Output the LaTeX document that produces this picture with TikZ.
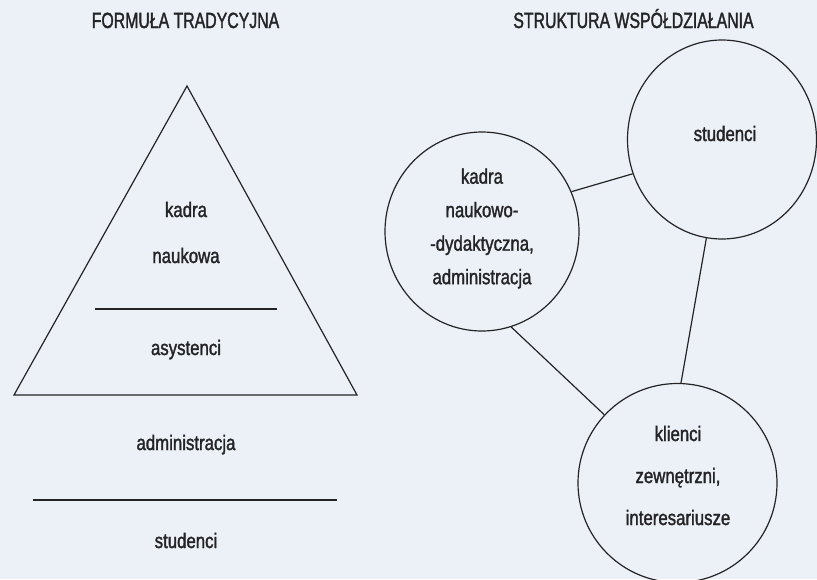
\documentclass[tikz,border=0pt]{standalone}
\usepackage{fontspec}
\setmainfont{Liberation Sans}[FakeStretch=0.8, FakeBold=1.5]
\newfontfamily\tytulfont{Liberation Sans}[FakeStretch=0.72, FakeBold=1.5]
\usepackage{tikz}
\usetikzlibrary{shapes.geometric, positioning}
\definecolor{paper}{RGB}{236,241,247}
\definecolor{ink}{RGB}{36,36,38}
\tikzset{every node/.append style={align=center, inner sep=0pt, text=ink}}

\begin{document}
\begin{tikzpicture}[x=1pt, y=-1pt,
    t/.style={font=\tytulfont\fontsize{22}{26}\selectfont, anchor=base},
    w/.style={font=\fontsize{21}{25}\selectfont, anchor=base},
    k/.style={ellipse, draw=ink, line width=1.2pt, minimum width=194pt, minimum height=199pt},
    l/.style={draw=ink, line width=1.2pt}]
\fill[paper] (0,0) rectangle (817,579);
\useasboundingbox (0,0) rectangle (817,579);
% naglowki
\node[t] (tytL) at (185.5,28) {FORMUŁA TRADYCYJNA};
\node[t] (tytP) at (633.5,28) {STRUKTURA WSPÓŁDZIAŁANIA};
% piramida
\coordinate (apex) at (187,86);
\coordinate (bl) at (14,395);
\coordinate (br) at (357,395);
\draw[l] (apex) -- (bl) -- (br) -- cycle;
\coordinate (p1a) at (95,309);
\coordinate (p1b) at (277,309);
\draw[l] (p1a) -- (p1b);
\coordinate (p2a) at (33,500);
\coordinate (p2b) at (337,500);
\draw[l] (p2a) -- (p2b);
\node[w] (tKadra) at (186,217) {kadra};
\node[w] (tNaukowa) at (186,263) {naukowa};
\node[w] (tAsyst) at (186,355) {asystenci};
\node[w] (tAdmin) at (186,450) {administracja};
\node[w] (tStud) at (186,548) {studenci};
% kola
\node[k] (kadra) at (482,231.5) {};
\node[k, minimum width=189pt] (studenci) at (722,139.5) {};
\node[k, minimum width=199pt] (klienci) at (677.5,483) {};
\node[font=\fontsize{21}{33.5}\selectfont] (kadraT) at (482,228.5)
    {kadra\\naukowo-\\-dydaktyczna,\\administracja};
\node[w] (studT) at (725,141) {studenci};
\node[font=\fontsize{21}{42}\selectfont] (klienciT) at (678,475.5)
    {klienci\\zewnętrzni,\\interesariusze};
\draw[l] (kadra.24) -- (studenci.-159);
\draw[l] (kadra.-73) -- (klienci.137);
\draw[l] (studenci.-99) -- (klienci.88);
\end{tikzpicture}
\end{document}
